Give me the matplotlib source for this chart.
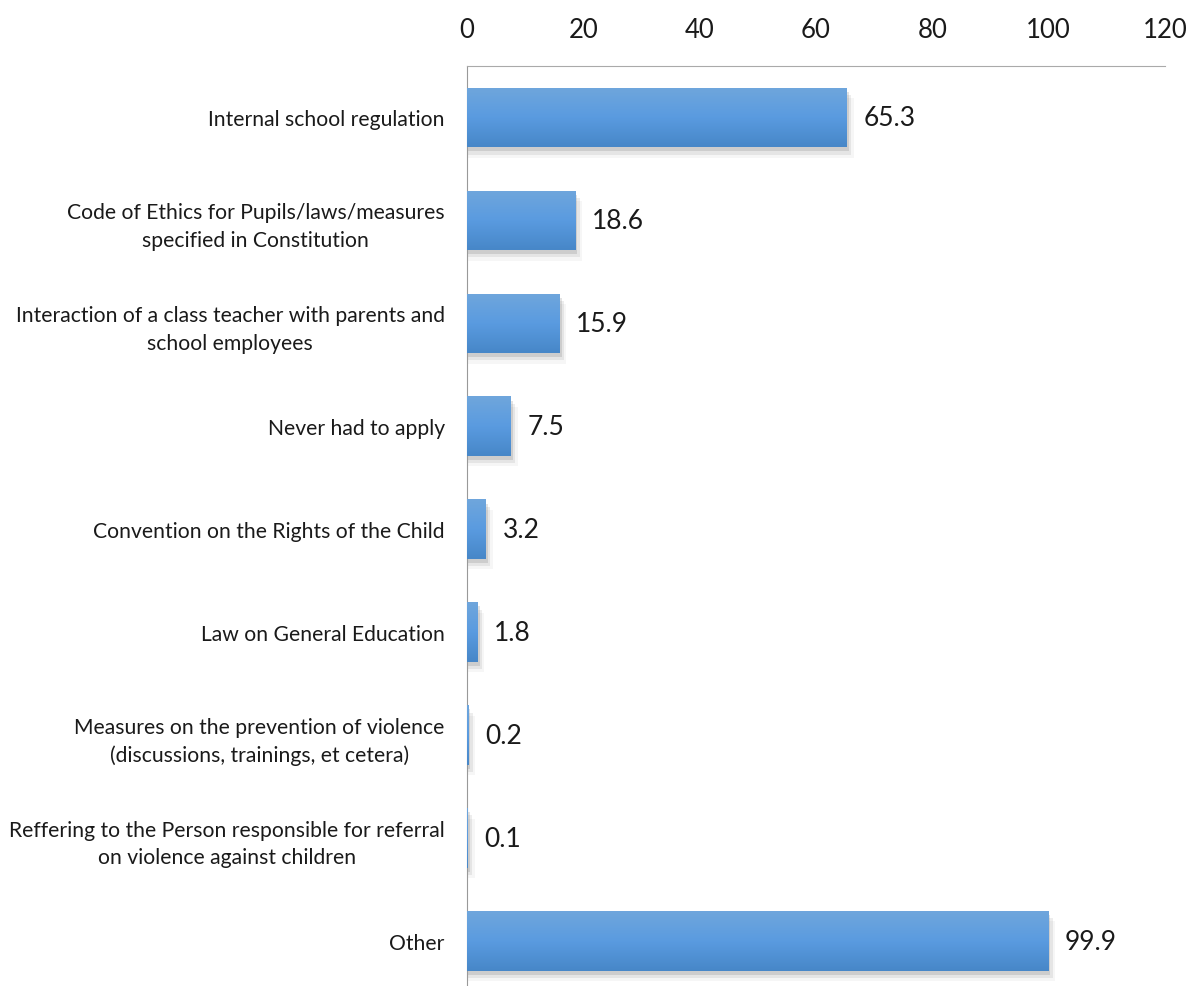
import matplotlib
matplotlib.use("Agg")
import matplotlib.pyplot as plt
import numpy as np
from matplotlib.colors import LinearSegmentedColormap
from matplotlib.patches import Rectangle

categories = [
    "Internal school regulation",
    "Code of Ethics for Pupils/laws/measures\nspecified in Constitution",
    "Interaction of a class teacher with parents and\nschool employees",
    "Never had to apply",
    "Convention on the Rights of the Child",
    "Law on General Education",
    "Measures on the prevention of violence\n(discussions, trainings, et cetera)",
    "Reffering to the Person responsible for referral\non violence against children",
    "Other",
]
values = [65.3, 18.6, 15.9, 7.5, 3.2, 1.8, 0.2, 0.1, 99.9]
xticks = [0, 20, 40, 60, 80, 100, 120]

plt.rcParams["font.family"] = ["Lato", "DejaVu Sans"]

fig = plt.figure(figsize=(11.9, 9.87), dpi=100)
ax = fig.add_axes([0.3924, -0.0066, 0.5866, 0.9387])

y = np.arange(len(categories))
h = 0.58
# light at the top of each bar, darker at the bottom
grad = LinearSegmentedColormap.from_list("g", ["#6fa6dc", "#5a9be0", "#4787c8"])

for yi, v in zip(y, values):
    # soft shadow below-right
    for k, a in enumerate([0.16, 0.10, 0.05]):
        off = 0.04 + 0.03 * k
        ax.add_patch(Rectangle((0, yi - h / 2 + off), v + 0.4 + 0.4 * k, h,
                               facecolor="#555555", alpha=a, edgecolor="none", zorder=1))
    bar = ax.barh(yi, v, height=h, color="none", zorder=2)[0]
    im = ax.imshow(np.linspace(0, 1, 64).reshape(-1, 1), cmap=grad, aspect="auto",
                   extent=(0, v, yi + h / 2, yi - h / 2), origin="upper", zorder=3)
    im.set_clip_path(bar)
    ax.text(v + 2.9, yi, f"{v}", va="center", ha="left", fontsize=19, color="#1a1a1a")

ax.set_xlim(0, 120)
ax.set_ylim(len(categories) - 0.5, -0.5)
ax.set_xticks(xticks)
ax.xaxis.tick_top()
ax.tick_params(axis="x", length=0, pad=17, labelsize=18.5, labelcolor="#1a1a1a")
ax.set_yticks(y)
ax.set_yticklabels(categories, fontsize=15.2, color="#1a1a1a", ha="right",
                   multialignment="center", linespacing=1.45)
ax.tick_params(axis="y", length=0, pad=16)
for s in ["right", "bottom"]:
    ax.spines[s].set_visible(False)
ax.spines["left"].set_color("#999999")
ax.spines["top"].set_color("#aaaaaa")
ax.set_aspect("auto")

fig.savefig("out.png", dpi=100)
